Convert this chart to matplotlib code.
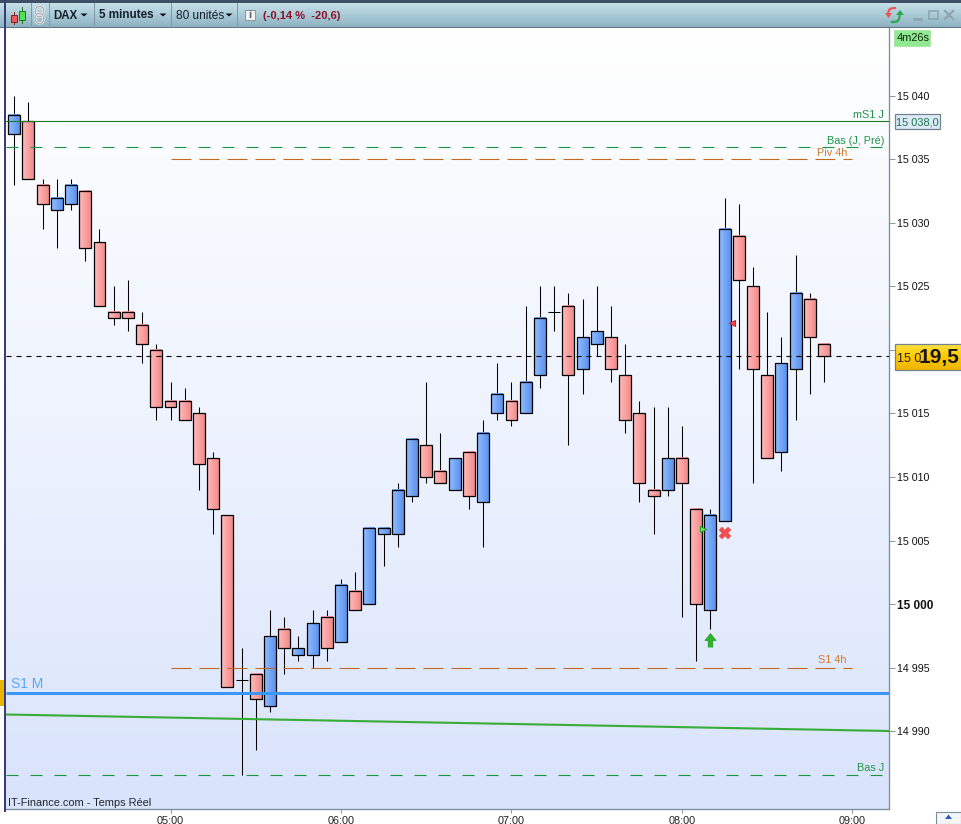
#!/usr/bin/env python3

import numpy as np
import matplotlib
matplotlib.use('Agg')
import matplotlib.pyplot as plt
from matplotlib.colors import LinearSegmentedColormap
from matplotlib.patches import Rectangle, Polygon, FancyBboxPatch

plt.rcParams['font.family'] = ['Liberation Sans', 'DejaVu Sans']
plt.rcParams['lines.scale_dashes'] = False

W, H = 961, 824
PX = 0.72  # one pixel in points at dpi 100

times = ['04:05', '04:10', '04:15', '04:20', '04:25', '04:30', '04:35', '04:40', '04:45', '04:50',
         '04:55', '05:00', '05:05', '05:10', '05:15', '05:20', '05:25', '05:30', '05:35', '05:40',
         '05:45', '05:50', '05:55', '06:00', '06:05', '06:10', '06:15', '06:20', '06:25', '06:30',
         '06:35', '06:40', '06:45', '06:50', '06:55', '07:00', '07:05', '07:10', '07:15', '07:20',
         '07:25', '07:30', '07:35', '07:40', '07:45', '07:50', '07:55', '08:00', '08:05', '08:10',
         '08:15', '08:20', '08:25', '08:30', '08:35', '08:40', '08:45', '08:50']
opens = [15037, 15038, 15033, 15031, 15031.5, 15032.5, 15028.5, 15023, 15023, 15022,
         15020, 15016, 15016, 15015, 15011.5, 15007, 14994, 14994.5, 14992, 14998,
         14996, 14996, 14999, 14997, 15001, 15000, 15005.5, 15005.5, 15008.5, 15012.5,
         15010.5, 15009, 15012, 15008, 15015, 15016, 15015, 15018, 15023, 15023.5,
         15018.5, 15020.5, 15021, 15018, 15015, 15009, 15009, 15011.5, 15007.5, 14999.5,
         15006.5, 15029, 15025, 15018, 15012, 15018.5, 15024, 15020.5]
highs = [15040, 15039.5, 15033.5, 15033.5, 15033.5, 15032.5, 15029.5, 15025, 15025.5, 15023,
         15020.5, 15017.5, 15017, 15015.5, 15012, 15007, 14996.5, 14994.5, 14999.5, 14999,
         14997.5, 14999.5, 14999.5, 15002, 15002.5, 15006, 15006, 15009.5, 15013, 15017.5,
         15013.5, 15011.5, 15012, 15014.5, 15019, 15017.5, 15023.5, 15025, 15025, 15024.5,
         15024, 15025, 15023.5, 15020.5, 15016, 15015.5, 15015.5, 15014, 15007.5, 15007.5,
         15032, 15031.5, 15026.5, 15023, 15021, 15027.5, 15024.5, 15020.5]
lows = [15033, 15033.5, 15029.5, 15028, 15031, 15027, 15023.5, 15022, 15021.5, 15019,
        15014.5, 15014.5, 15014.5, 15009, 15005.5, 14993.5, 14986.5, 14988.5, 14991.5, 14994.5,
        14995.5, 14995, 14995.5, 14997, 14999.5, 15000, 15003, 15004.5, 15008, 15009.5,
        15009.5, 15009, 15007.5, 15004.5, 15014.5, 15014, 15015, 15017, 15021.5, 15012.5,
        15016.5, 15019.5, 15017.5, 15013.5, 15008, 15005.5, 15008.5, 14999, 14995.5, 14998,
        15006.5, 15018.5, 15009.5, 15011.5, 15010.5, 15014.5, 15016.5, 15017.5]
closes = [15038.5, 15033.5, 15031.5, 15032, 15033, 15028, 15023.5, 15022.5, 15022.5, 15020.5,
          15015.5, 15015.5, 15014.5, 15011, 15007.5, 14993.5, 14994, 14992.5, 14997.5, 14996.5,
          14996.5, 14998.5, 14996.5, 15001.5, 14999.5, 15006, 15006, 15009, 15013, 15010,
          15009.5, 15011.5, 15008.5, 15013.5, 15016.5, 15014.5, 15017.5, 15022.5, 15023, 15018,
          15021, 15021.5, 15018.5, 15014.5, 15009.5, 15008.5, 15011.5, 15009.5, 15000, 15007,
          15029.5, 15025.5, 15018.5, 15011.5, 15019, 15024.5, 15021, 15019.5]

y_ticks = [14990, 14995, 15000, 15005, 15010, 15015, 15020, 15025, 15030, 15035, 15040]
y_labels = ['14 990', '14 995', '15 000', '15 005', '15 010', '15 015', '', '15 025', '15 030', '15 035', '15 040']
x_ticks = ['05:00', '06:00', '07:00', '08:00', '09:00']

level_mS1_J = 15038
level_bas_pre = 15036
level_piv_4h = 15035
level_s1_4h = 14995
level_s1_m = 14993
level_bas_j = 14986.5
level_last = 15019.5
trend_times = ['04:02', '09:13']
trend_values = [14991.3, 14990.0]

arrow_up = ('08:10', 14997.2)
cross = ('08:15', 15005.6)
tri_green = ('08:07.4', 15005.9)
tri_red = ('08:17.6', 15022.1)


def minutes(t):
    h, m = t.split(':')
    return int(h) * 60 + float(m)


fig = plt.figure(figsize=(W / 100, H / 100), dpi=100, facecolor='white')

# price chart, placed on the pixel box of the reference
left, right, top, bottom = 5.5, 889, 27, 809
ax = fig.add_axes([left / W, 1 - bottom / H, (right - left) / W, (bottom - top) / H])
ax.set_xlim(241.93, 552.85)
ax.set_ylim(14983.86, 15045.43)

bg = LinearSegmentedColormap.from_list('bg', ['#ffffff', '#eef3fe', '#d9e3fb'])
ax.imshow(np.linspace(0, 1, 256).reshape(-1, 1), extent=(0, 1, 0, 1), transform=ax.transAxes,
          cmap=bg, aspect='auto', zorder=0, origin='upper')

blue = LinearSegmentedColormap.from_list('blue', ['#92bdff', '#5b92ee'])
red = LinearSegmentedColormap.from_list('red', ['#ffbcbc', '#f48a8a'])
grad = np.linspace(0, 1, 32).reshape(1, -1)
hw = 2.1

for t, o, h, l, c in zip(times, opens, highs, lows, closes):
    x = minutes(t)
    ax.plot([x, x], [l, h], color='black', lw=1.05 * PX, zorder=2, solid_capstyle='butt')
    if o == c:
        ax.plot([x - hw, x + hw], [o, o], color='black', lw=1.05 * PX, zorder=2, solid_capstyle='butt')
        continue
    ax.imshow(grad, extent=(x - hw, x + hw, min(o, c), max(o, c)), cmap=blue if c > o else red,
              aspect='auto', zorder=3)
    ax.add_patch(Rectangle((x - hw, min(o, c)), 2 * hw, abs(c - o), fill=False, ec='black',
                           lw=1.25 * PX, zorder=4))
ax.set_xlim(241.93, 552.85)
ax.set_ylim(14983.86, 15045.43)

xl = ax.get_xlim()
ax.plot(xl, [level_mS1_J] * 2, color='#1b7a1b', lw=1.1 * PX, zorder=5)
ax.plot([242, 551], [level_bas_pre] * 2, color='#1c9440', lw=1.1 * PX, dashes=(12 * PX, 12 * PX), zorder=5)
ax.plot([242, 551], [level_bas_j] * 2, color='#1c9440', lw=1.1 * PX, dashes=(12 * PX, 12 * PX), zorder=5)
ax.plot([300, 540], [level_piv_4h] * 2, color='#c46a20', lw=1.1 * PX, dashes=(20 * PX, 8 * PX), zorder=5)
ax.plot([300, 540], [level_s1_4h] * 2, color='#c46a20', lw=1.1 * PX, dashes=(20 * PX, 8 * PX), zorder=5)
ax.plot(xl, [level_s1_m] * 2, color='#3a96f8', lw=3 * PX, zorder=5, solid_capstyle='butt')
ax.plot([minutes(t) for t in trend_times], trend_values, color='#38ae38', lw=2.1 * PX, zorder=5)
ax.plot(xl, [level_last] * 2, color='black', lw=1.1 * PX, dashes=(5 * PX, 5 * PX), zorder=5)

# signals
up_arrow = [(-0.2, -0.6), (-0.2, 0), (-0.48, 0), (0, 0.6), (0.48, 0), (0.2, 0), (0.2, -0.6)]
ax.plot(minutes(arrow_up[0]), arrow_up[1], marker=up_arrow, ms=10, mfc='#2cb52c', mec='#1e9a1e', mew=0.5, zorder=6)
ax.plot(minutes(cross[0]), cross[1], marker='X', ms=9, mfc='#ee5050', mec='#ee5050', mew=0.3, zorder=6)
ax.plot(minutes(tri_green[0]), tri_green[1], marker='>', ms=4.5, mfc='#7de07d', mec='#1fa51f', mew=0.8, zorder=6)
ax.plot(minutes(tri_red[0]), tri_red[1], marker='<', ms=4.5, mfc='#ee5050', mec='#cc2030', mew=0.8, zorder=6)

for s in ['top', 'left']:
    ax.spines[s].set_visible(False)
for s in ['right', 'bottom']:
    ax.spines[s].set_color('#7c8d99')
    ax.spines[s].set_linewidth(1.3 * PX)

ax.yaxis.tick_right()
ax.set_yticks(y_ticks)
ax.set_yticklabels(y_labels, fontsize=7.7, color='#111111')
ax.set_xticks([minutes(t) for t in x_ticks])
ax.set_xticklabels(x_ticks, fontsize=7.8, color='#222222')
ax.tick_params(axis='y', length=4.5, width=0.9 * PX, color='#7c8d99', pad=1.6)
ax.tick_params(axis='x', length=3, width=0.9 * PX, color='#7c8d99', pad=2)
for lab in ax.get_yticklabels():
    if lab.get_text() == '15 000':
        lab.set_fontweight('bold')
        lab.set_fontsize(8.5)

# window parts and labels, in pixel coordinates of the picture
ui = fig.add_axes([0, 0, 1, 1], facecolor='none', zorder=10)
ui.axis('off')

bar = LinearSegmentedColormap.from_list('bar', ['#c6e0e8', '#a9cbd7', '#8fb2c2'])
ui.imshow(np.linspace(0, 1, 64).reshape(-1, 1), extent=(0, W, 27, 3), cmap=bar, aspect='auto', zorder=1)
ui.add_patch(Rectangle((0, 0), W, 3, fc='#3e4f66', ec='none', zorder=2))
ui.add_patch(Rectangle((0, 26.5), W, 1.2, fc='#5f7584', ec='none', zorder=2))
ui.add_patch(Rectangle((4, 0), 1.6, 812, fc='#3a3a80', ec='none', zorder=2))
for x in [30.5, 48.5, 93.5, 170.5, 236.5]:
    ui.plot([x, x], [3, 27], color='#7f99a8', lw=1 * PX, zorder=3)

# toolbar icons
ui.plot([13.5, 13.5], [12, 24], color='#8a2020', lw=0.7, zorder=2.5)
ui.add_patch(Rectangle((10.5, 14.5), 6.5, 7, fc='#ee5a5a', ec='#8a2020', lw=0.7, zorder=3))
ui.plot([21.5, 21.5], [7, 23], color='#1e7a1e', lw=0.7, zorder=2.5)
ui.add_patch(Rectangle((18.5, 10.5), 6.5, 9, fc='#55e055', ec='#1e7a1e', lw=0.7, zorder=3))
for ly in [8, 15]:
    ui.add_patch(FancyBboxPatch((37, ly), 5, 7, boxstyle='round,pad=1.2,rounding_size=2.5', fc='none',
                                ec='#f2f2f2', lw=1.8, zorder=3))
    ui.add_patch(FancyBboxPatch((37, ly), 5, 7, boxstyle='round,pad=1.2,rounding_size=2.5', fc='none',
                                ec='#707a80', lw=0.5, zorder=3))
ui.add_patch(Rectangle((244.5, 9.5), 10.5, 10.5, fc='#f3f3f3', ec='#8c9aa3', lw=0.8, zorder=3))
ui.text(249.8, 15, 'i', fontsize=8, fontweight='bold', color='#556070', ha='center', va='center', zorder=4)
for tx, ty in [(84, 15), (163, 15), (229, 15)]:
    ui.add_patch(Polygon([(tx - 3.5, ty - 1.5), (tx + 3.5, ty - 1.5), (tx, ty + 1.5)], fc='#111111', ec='none', zorder=3))

ui.text(53, 15.5, 'DAX', fontsize=8.3, fontweight='bold', color='#15202c', va='center', zorder=4)
ui.text(99, 15, '5 minutes', fontsize=8.4, fontweight='bold', color='#15202c', va='center', zorder=4)
ui.text(176, 15.5, '80 unités', fontsize=8.6, color='#15202c', va='center', zorder=4)
ui.text(263, 15.5, '(-0,14 %  -20,6)', fontsize=8, fontweight='bold', color='#8c1028', va='center', zorder=4)

# right hand window buttons
ui.plot([888, 889, 891, 895], [14, 10, 8.5, 8], color='#ee5555', lw=1.6, zorder=3)
ui.add_patch(Polygon([(885, 13), (892, 13), (888.5, 18)], fc='#ee5555', ec='none', zorder=3))
ui.plot([900, 899, 897, 892], [14, 19, 21.5, 22], color='#2aa84a', lw=1.6, zorder=3)
ui.add_patch(Polygon([(896, 15), (904, 15), (900, 10)], fc='#2aa84a', ec='none', zorder=3))
ui.plot([913, 922], [18.5, 18.5], color='#8fa4b0', lw=2, zorder=3, solid_capstyle='butt')
ui.add_patch(Rectangle((929, 10.5), 8.5, 8.5, fc='none', ec='#8fa4b0', lw=1.2, zorder=3))
ui.plot([945, 953], [11, 19], color='#8fa4b0', lw=1.6, zorder=3)
ui.plot([945, 953], [19, 11], color='#8fa4b0', lw=1.6, zorder=3)

# right scale tags
ui.add_patch(Rectangle((894, 29.5), 35.5, 16, fc='#90e890', ec='#a6e8a6', lw=0.6, zorder=3))
ui.text(897, 38, '4m26s', fontsize=7.9, color='#0c2a0c', va='center', zorder=4)
ui.add_patch(Rectangle((894.5, 114), 45, 15, fc='#dde8f8', ec='#72858f', lw=0.9, zorder=3))
ui.text(896.5, 122, '15 038,0', fontsize=7.9, color='#18794a', va='center', zorder=4)

gold = LinearSegmentedColormap.from_list('gold', ['#ffe040', '#ffc800', '#f0b400'])
ui.imshow(np.linspace(0, 1, 32).reshape(-1, 1), extent=(895, 961, 370, 344), cmap=gold, aspect='auto', zorder=3)
ui.add_patch(Rectangle((894.5, 343.5), 67, 26.5, fc='none', ec='#72858f', lw=0.9, zorder=4))
ui.text(897, 359, '15 0', fontsize=9, color='#222222', va='center', zorder=5)
ui.text(919, 357, '19,5', fontsize=15, fontweight='bold', color='#181818', va='center', zorder=5)

# left marker and bottom right button
ui.add_patch(Rectangle((0, 680), 3.5, 26, fc='#e8b400', ec='none', zorder=3))
ui.add_patch(Rectangle((936, 812), 25, 12, fc='#f4f6f8', ec='#7c8d99', lw=0.8, zorder=3))
ui.add_patch(Polygon([(945, 819), (948.5, 814.5), (952, 819)], fc='#2a5cc0', ec='none', zorder=4))

# chart labels
ui.text(884, 114.5, 'mS1 J', fontsize=7.8, color='#1f9448', ha='right', va='center', zorder=6)
ui.text(884, 140.5, 'Bas (J, Pré)', fontsize=7.8, color='#1f9448', ha='right', va='center', zorder=6)
ui.text(847, 152.5, 'Piv 4h', fontsize=7.8, color='#d07a2a', ha='right', va='center', zorder=6)
ui.text(846, 660, 'S1 4h', fontsize=7.8, color='#d07a2a', ha='right', va='center', zorder=6)
ui.text(884, 768, 'Bas J', fontsize=7.8, color='#1f9448', ha='right', va='center', zorder=6)
ui.text(11, 684, 'S1 M', fontsize=10, color='#58a6f6', va='center', zorder=6)
ui.text(8, 803, 'IT-Finance.com - Temps Réel', fontsize=7.9, color='#20262e', va='center', zorder=6)

ui.set_xlim(0, W)
ui.set_ylim(H, 0)

fig.savefig('out.png', dpi=100)
